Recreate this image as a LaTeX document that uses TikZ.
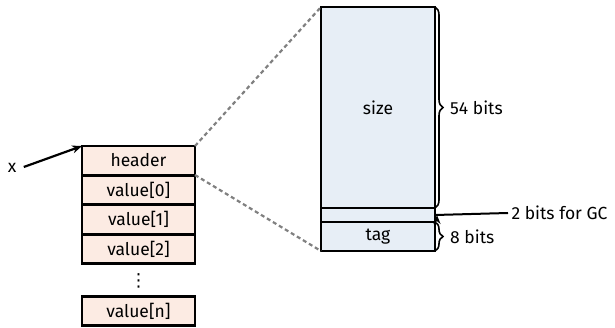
\documentclass[tikz,border=0pt]{standalone}
\usepackage{fontspec}
\setmainfont{Fira Sans}
\newfontfamily\symfont{DejaVu Sans}
\usetikzlibrary{arrows.meta,decorations.pathreplacing}
\definecolor{cellpink}{HTML}{FCEBE3}
\definecolor{cellblue}{HTML}{E7EEF6}
\begin{document}
\begin{tikzpicture}[x=1pt, y=-1pt,
    font=\fontsize{17.5}{20}\selectfont,
    slot/.style={draw, line width=2.4pt, fill=cellpink, minimum width=113pt,
      minimum height=29pt, inner sep=0pt, outer sep=0pt},
    field/.style={draw, line width=2.4pt, fill=cellblue, minimum width=114pt,
      inner sep=0pt, outer sep=0pt},
    zoomline/.style={gray, line width=2.2pt, dash pattern=on 4pt off 3pt},
    bitbrace/.style={decorate, decoration={brace, amplitude=8pt}, line width=1.6pt}]
  \useasboundingbox (0, 0) rectangle (615, 328);

  % the block
  \node[slot] (header) at (138.5, 160.5) {header};
  \foreach \i/\y in {0/190, 1/219.5, 2/249} {
    \node[slot] (value\i) at (138.5, \y) {value[\i]};
  }
  \node[inner sep=0pt, font=\symfont\fontsize{18}{18}\selectfont] (dots) at (138.5, 281) {⋮};
  \node[slot] (valuen) at (138.5, 311) {value[n]};

  \node (x) at (12, 168) {x};
  \draw[line width=2.2pt, -{Stealth[length=10pt, width=8pt]}] (x.east) ++(4, -1) coordinate (xs)
    (xs) -- (header.north west);

  % the header word
  \node[field, minimum height=201pt] (size) at (378, 107.5) {size};
  \node[field, minimum height=14pt, anchor=north] (gc) at (size.south) {};
  \node[field, minimum height=29pt, anchor=north] (tag) at (gc.south) {tag};

  \draw[zoomline] (header.north east) -- (size.north west);
  \draw[zoomline] (header.south east) -- (tag.south west);

  % widths
  \draw[bitbrace] (size.north east) -- (size.south east)
    node[midway, right=11pt] (sizebits) {54 bits};
  \draw[bitbrace] (tag.north east) -- (tag.south east)
    node[midway, right=11pt] (tagbits) {8 bits};
  \node[anchor=west] (gcbits) at (508, 213) {2 bits for GC};
  \draw[line width=2pt, -{Stealth[length=9pt, width=7pt]}] (gcbits.west) -- (gc.east -| size.east) ++(2, 0);
\end{tikzpicture}
\end{document}
